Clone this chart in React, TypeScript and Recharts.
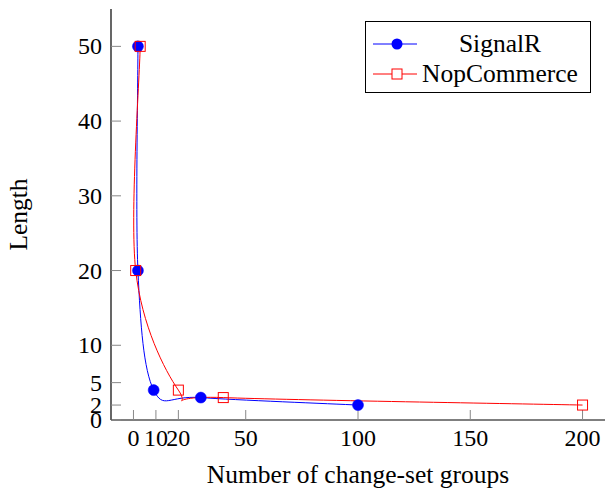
import React from 'react';
import { LineChart, Line, XAxis, YAxis, Legend } from 'recharts';

// values
const signalrX = [2, 2, 9, 30, 100];
const signalrY = [50, 20, 4, 3, 2];
const nopX = [3, 1, 20, 40, 200];
const nopY = [50, 20, 4, 3, 2];

const xTicks = [0, 10, 20, 50, 100, 150, 200];
const yTicks = [0, 2, 5, 10, 20, 30, 40, 50];

const BLUE = '#0000ff';
const RED = '#ff0000';
const FONT = '"Liberation Serif", "Times New Roman", serif';

const signalrData = signalrX.map((x, i) => ({ x, y: signalrY[i] }));
const nopData = nopX.map((x, i) => ({ x, y: nopY[i] }));

// pgfplots-like "smooth": cardinal spline through the points, in data order
const smoothCurve = (context: any) => {
  let pts: number[][] = [];
  const k = 0.16;
  return {
    areaStart() {},
    areaEnd() {},
    lineStart() {
      pts = [];
    },
    point(x: number, y: number) {
      pts.push([+x, +y]);
    },
    lineEnd() {
      if (!pts.length) return;
      context.moveTo(pts[0][0], pts[0][1]);
      for (let i = 0; i < pts.length - 1; i++) {
        const p0 = pts[Math.max(0, i - 1)];
        const p1 = pts[i];
        const p2 = pts[i + 1];
        const p3 = pts[Math.min(pts.length - 1, i + 2)];
        context.bezierCurveTo(
          p1[0] + k * (p2[0] - p0[0]),
          p1[1] + k * (p2[1] - p0[1]),
          p2[0] - k * (p3[0] - p1[0]),
          p2[1] - k * (p3[1] - p1[1]),
          p2[0],
          p2[1]
        );
      }
    },
  };
};

const CircleDot = (p: any) => (
  <circle key={`c${p.index}`} cx={p.cx} cy={p.cy} r={5.5} fill={BLUE} stroke={BLUE} strokeWidth={0.5} />
);

const SquareDot = (p: any) => (
  <rect key={`s${p.index}`} x={p.cx - 5} y={p.cy - 5} width={10} height={10} fill="none" stroke={RED} strokeWidth={1} />
);

const BottomTick = (p: any) => (
  <text x={p.x} y={p.y} dy={17} textAnchor="middle" fill="#000" style={{ fontFamily: FONT, fontSize: 24 }}>
    {p.payload.value}
  </text>
);

const LeftTick = (p: any) => (
  <text x={p.x} y={p.y} dy={8} textAnchor="end" fill="#000" style={{ fontFamily: FONT, fontSize: 24 }}>
    {p.payload.value}
  </text>
);

const LegendBox = () => {
  const rows = [
    { name: 'SignalR', color: BLUE, mark: 'circle' },
    { name: 'NopCommerce', color: RED, mark: 'square' },
  ];
  return (
    <div
      style={{
        position: 'relative',
        width: 226,
        height: 72,
        boxSizing: 'border-box',
        border: '1px solid #000',
        background: '#fff',
        fontFamily: FONT,
        fontSize: 25.5,
        color: '#000',
      }}
    >
      {rows.map((r, i) => (
        <div key={r.name} style={{ position: 'absolute', left: 0, top: 7 + i * 30, width: 226, height: 30 }}>
          <svg width={60} height={30} style={{ position: 'absolute', left: 0, top: 0 }}>
            <line x1={7} y1={15} x2={51} y2={15} stroke={r.color} strokeWidth={1} />
            {r.mark === 'circle' ? (
              <circle cx={31} cy={15} r={5.5} fill={r.color} />
            ) : (
              <rect x={26} y={10} width={10} height={10} fill="#fff" stroke={r.color} strokeWidth={1} />
            )}
          </svg>
          <div
            style={{
              position: 'absolute',
              left: 51,
              width: 166,
              top: 0,
              height: 30,
              lineHeight: '30px',
              textAlign: 'center',
              whiteSpace: 'nowrap',
            }}
          >
            {r.name}
          </div>
        </div>
      ))}
    </div>
  );
};

const tickLineStyle = { stroke: '#888', strokeWidth: 1 };
const axisLineStyle = { stroke: '#000', strokeWidth: 1.2 };

export default function App() {
  return (
    <div
      style={{
        position: 'absolute',
        left: 0,
        top: 0,
        width: 606,
        height: 489,
        background: '#fff',
        fontFamily: FONT,
      }}
    >
      <LineChart width={606} height={489} margin={{ top: 9, right: 1, bottom: 0, left: 0 }} style={{ fontFamily: FONT }}>
        <XAxis
          xAxisId="b"
          type="number"
          dataKey="x"
          domain={[-10, 210]}
          allowDataOverflow
          ticks={xTicks}
          interval={0}
          height={69}
          tickSize={-10}
          tickMargin={19}
          tick={BottomTick}
          tickLine={tickLineStyle}
          axisLine={axisLineStyle}
          label={{ value: 'Number of change-set groups', position: 'insideBottom', offset: 6, fontSize: 25.5, fill: '#000' }}
        />
        <XAxis
          xAxisId="t"
          orientation="top"
          type="number"
          dataKey="x"
          domain={[-10, 210]}
          allowDataOverflow
          ticks={xTicks}
          interval={0}
          height={0}
          tickSize={-10}
          tick={false}
          tickLine={tickLineStyle}
          axisLine={axisLineStyle}
        />
        <YAxis
          yAxisId="l"
          type="number"
          domain={[0, 55]}
          allowDataOverflow
          ticks={yTicks}
          interval={0}
          width={111}
          tickSize={-10}
          tickMargin={19}
          tick={LeftTick}
          tickLine={tickLineStyle}
          axisLine={axisLineStyle}
          label={{
            value: 'Length',
            angle: -90,
            position: 'insideLeft',
            offset: 18,
            fontSize: 25.5,
            fill: '#000',
            style: { textAnchor: 'middle' },
          }}
        />
        <YAxis
          yAxisId="r"
          orientation="right"
          type="number"
          domain={[0, 55]}
          allowDataOverflow
          ticks={yTicks}
          interval={0}
          width={0}
          tickSize={-10}
          tick={false}
          tickLine={tickLineStyle}
          axisLine={axisLineStyle}
        />
        <Legend
          layout="horizontal"
          verticalAlign="middle"
          align="center"
          wrapperStyle={{ position: 'absolute', left: 365, top: 21, width: 226, height: 72 }}
          content={() => <LegendBox />}
        />
        <Line
          xAxisId="b"
          yAxisId="l"
          data={signalrData}
          dataKey="y"
          name="SignalR"
          type={smoothCurve as any}
          stroke={BLUE}
          strokeWidth={1}
          dot={CircleDot}
          activeDot={false}
          isAnimationActive={false}
        />
        <Line
          xAxisId="b"
          yAxisId="l"
          data={nopData}
          dataKey="y"
          name="NopCommerce"
          type={smoothCurve as any}
          stroke={RED}
          strokeWidth={1}
          dot={SquareDot}
          activeDot={false}
          isAnimationActive={false}
        />
      </LineChart>
    </div>
  );
}
